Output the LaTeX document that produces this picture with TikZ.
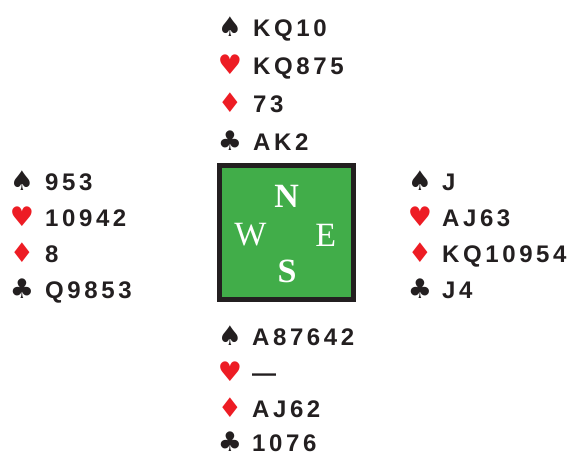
\documentclass[tikz,border=0pt]{standalone}
\usepackage{fontspec}
\usepackage{tikz}
\usetikzlibrary{positioning}
\newfontfamily\handfont[LetterSpace=15]{Liberation Sans}
\newfontfamily\suitfont{DejaVu Sans}
\newfontfamily\seatfont{Liberation Serif}
\definecolor{tablegreen}{HTML}{41AD49}
\definecolor{suitred}{HTML}{ED1C24}
\definecolor{inkblack}{HTML}{231F20}
\tikzset{
  holding/.style={anchor=base west, inner sep=0pt, text=inkblack, font=\handfont\bfseries\fontsize{24}{24}\selectfont},
  blacksuit/.style={anchor=base, inner sep=0pt, text=inkblack, font=\suitfont\fontsize{27}{27}\selectfont},
  redsuit/.style={blacksuit, text=suitred},
  seat/.style={inner sep=0pt, text=white, font=\seatfont\fontsize{34}{34}\selectfont},
  boldseat/.style={seat, font=\seatfont\bfseries\fontsize{34}{34}\selectfont},
  table/.style={draw=inkblack, line width=5pt, fill=tablegreen, minimum size=134pt, inner sep=0pt}
}

\begin{document}
\begin{tikzpicture}[x=1pt, y=-1pt]
\useasboundingbox (0,0) rectangle (568,457);
% table with the four seats
\node[table] (table) at (286.5,232.5) {};
\node[boldseat] (north) at (286.7,196.7) {N};
\node[seat] (west) at (250.3,235) {W};
\node[seat] (east) at (325.8,235.5) {E};
\node[boldseat] (south) at (287.2,271.3) {S};
% north
\node[blacksuit] (ns) at (230,37) {♠};
\node[holding] (nsh) at (253,37) {KQ10};
\node[redsuit] (nh) at (230,75) {♥};
\node[holding] (nhh) at (253,75) {KQ875};
\node[redsuit] (nd) at (230,113) {♦};
\node[holding] (ndh) at (253,113) {73};
\node[blacksuit] (nc) at (230,151) {♣};
\node[holding] (nch) at (253,151) {AK2};
% west
\node[blacksuit] (ws) at (22,191) {♠};
\node[holding] (wsh) at (45,191) {953};
\node[redsuit] (wh) at (22,227) {♥};
\node[holding] (whh) at (45,227) {10942};
\node[redsuit] (wd) at (22,263) {♦};
\node[holding] (wdh) at (45,263) {8};
\node[blacksuit] (wc) at (22,299) {♣};
\node[holding] (wch) at (45,299) {Q9853};
% east
\node[blacksuit] (es) at (420,191) {♠};
\node[holding] (esh) at (442,191) {J};
\node[redsuit] (eh) at (420,227) {♥};
\node[holding] (ehh) at (442,227) {AJ63};
\node[redsuit] (ed) at (420,263) {♦};
\node[holding] (edh) at (442,263) {KQ10954};
\node[blacksuit] (ec) at (420,299) {♣};
\node[holding] (ech) at (442,299) {J4};
% south
\node[blacksuit] (ss) at (230,345) {♠};
\node[holding] (ssh) at (252,345) {A87642};
\node[redsuit] (sh) at (230,381) {♥};
\node[holding] (shh) at (252,381) {—};
\node[redsuit] (sd) at (230,417) {♦};
\node[holding] (sdh) at (252,417) {AJ62};
\node[blacksuit] (sc) at (230,451) {♣};
\node[holding] (sch) at (252,451) {1076};
\end{tikzpicture}
\end{document}
